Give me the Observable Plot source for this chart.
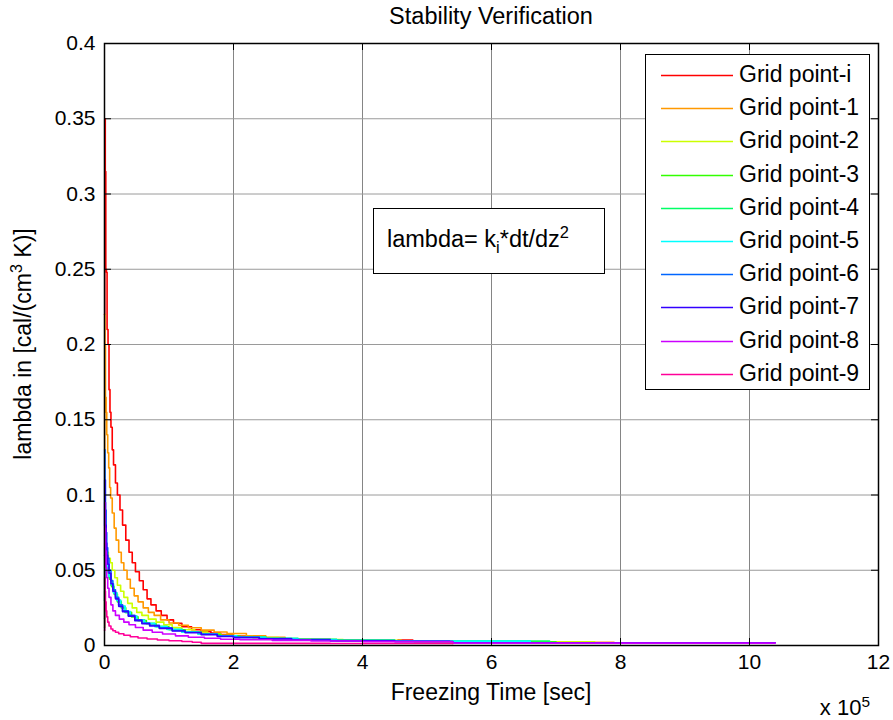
<!DOCTYPE html>
<html><head><meta charset="utf-8">
<script src="https://cdn.jsdelivr.net/npm/d3@7"></script>
<script src="https://cdn.jsdelivr.net/npm/@observablehq/plot@0.6"></script>
<style>
body{margin:0;background:#fff;font-family:"Liberation Sans",Arial,sans-serif;}
#wrap{position:relative;width:893px;height:720px;overflow:hidden;}
.t{position:absolute;font-size:21px;color:#000;white-space:nowrap;line-height:1;}
sup,sub{font-size:0.7em;line-height:0;}
#legend{position:absolute;left:645px;top:54px;width:225px;height:336px;box-sizing:border-box;border:1px solid #000;background:#fff;}
.li{position:absolute;left:0;height:30px;width:100%;}
.li svg{position:absolute;left:15px;top:14px;}
.li span{position:absolute;left:93px;top:3px;font-size:23px;line-height:1;}
#note{position:absolute;left:373px;top:208px;width:232px;height:66px;box-sizing:border-box;border:1px solid #000;background:#fff;}
#note span{position:absolute;left:13px;top:19px;font-size:23.5px;line-height:1;white-space:nowrap;}
</style></head><body><div id="wrap"></div>
<script>
// ---- data (time in units of 10^5 s, lambda) ----
const seriesNames = ["Grid point-i","Grid point-1","Grid point-2","Grid point-3","Grid point-4","Grid point-5","Grid point-6","Grid point-7","Grid point-8","Grid point-9"];
const seriesColors = ["#ff0000","#ff9900","#ccff00","#33ff00","#00ff66","#00ffff","#0066ff","#3300ff","#cc00ff","#ff0099"];
const xTicks = [0,2,4,6,8,10,12];
const yTicks = [0,0.05,0.1,0.15,0.2,0.25,0.3,0.35,0.4];
const xGrid = [2,4,6,8,10];
const yGrid = [0.05,0.1,0.15,0.2,0.25,0.3,0.35];

const gridI = [[0,0.22],[0.004,0.35],[0.012,0.315],[0.02,0.25],[0.03,0.248],[0.04,0.21],[0.055,0.2],[0.07,0.17],[0.085,0.155],[0.1,0.145],[0.12,0.13],[0.14,0.12],[0.17,0.108],[0.2,0.1],[0.24,0.09],[0.28,0.08],[0.33,0.07],[0.38,0.062],[0.43,0.055],[0.48,0.049],[0.54,0.043],[0.6,0.037],[0.66,0.031],[0.72,0.027],[0.8,0.023],[0.88,0.02],[0.97,0.017],[1.07,0.0148],[1.2,0.0125],[1.35,0.0105],[1.5,0.0092],[1.65,0.0083],[1.8,0.0072],[2.0,0.0062],[2.2,0.0055],[2.5,0.005],[2.8,0.0045],[3.2,0.0042],[3.5,0.0038],[3.6,0.0032],[4.5,0.0032],[4.55,0.0036],[4.78,0.0036]];
const grid1 = [[0,0.13],[0.003,0.22],[0.008,0.2],[0.015,0.165],[0.025,0.155],[0.035,0.14],[0.05,0.128],[0.065,0.118],[0.08,0.105],[0.095,0.098],[0.12,0.088],[0.15,0.078],[0.18,0.07],[0.22,0.062],[0.26,0.055],[0.3,0.05],[0.35,0.044],[0.4,0.038],[0.46,0.033],[0.52,0.029],[0.6,0.025],[0.68,0.022],[0.77,0.02],[0.87,0.017],[1.0,0.015],[1.15,0.0135],[1.3,0.0118],[1.5,0.0102],[1.7,0.009],[1.9,0.008],[2.2,0.0065],[2.5,0.0055],[2.8,0.0045],[3.1,0.004],[3.5,0.0035],[4.0,0.003],[4.74,0.003],[4.8,0.0026],[5.88,0.0022],[7.9,0.0022]];
const grid2 = [[0,0.03],[0.003,0.068],[0.02,0.065],[0.04,0.062],[0.06,0.058],[0.09,0.055],[0.12,0.05],[0.16,0.045],[0.2,0.04],[0.25,0.036],[0.3,0.032],[0.36,0.028],[0.43,0.025],[0.5,0.022],[0.58,0.02],[0.68,0.0175],[0.8,0.0155],[0.92,0.0138],[1.05,0.012],[1.2,0.0105],[1.4,0.009],[1.6,0.0077],[1.8,0.0068],[2.0,0.006],[2.3,0.0052],[2.7,0.0045],[3.2,0.004],[3.7,0.0035],[4.6,0.0032],[5.9,0.0024],[7.6,0.0024]];
const grid3 = [[0,0.012],[0.003,0.036],[0.006,0.058],[0.02,0.056],[0.04,0.052],[0.06,0.048],[0.08,0.044],[0.11,0.039],[0.15,0.034],[0.2,0.029],[0.26,0.025],[0.33,0.022],[0.42,0.019],[0.52,0.0165],[0.65,0.0145],[0.8,0.0125],[1.0,0.0105],[1.25,0.0088],[1.5,0.0075],[1.8,0.0063],[2.1,0.0055],[2.5,0.0047],[3.0,0.004],[3.6,0.0035],[4.5,0.003],[6.6,0.0025],[7.0,0.0025]];
const grid4 = [[0,0.018],[0.003,0.06],[0.015,0.057],[0.03,0.053],[0.05,0.049],[0.07,0.045],[0.1,0.04],[0.14,0.035],[0.19,0.03],[0.25,0.026],[0.32,0.022],[0.4,0.0195],[0.5,0.017],[0.62,0.0148],[0.78,0.0128],[0.97,0.0108],[1.2,0.009],[1.45,0.0077],[1.75,0.0065],[2.05,0.0056],[2.5,0.0047],[3.0,0.004],[3.6,0.0034],[4.5,0.003],[6.9,0.0024]];
const grid5 = [[0,0.03],[0.003,0.065],[0.015,0.06],[0.03,0.055],[0.05,0.05],[0.07,0.046],[0.1,0.041],[0.14,0.035],[0.19,0.03],[0.25,0.026],[0.32,0.0225],[0.4,0.0195],[0.5,0.0168],[0.62,0.0146],[0.78,0.0125],[0.97,0.0106],[1.2,0.0089],[1.45,0.0076],[1.75,0.0064],[2.05,0.0055],[2.5,0.0046],[3.0,0.0039],[3.6,0.0033],[4.5,0.0029],[6.6,0.0023]];
const grid6 = [[0,0.08],[0.003,0.13],[0.008,0.11],[0.015,0.09],[0.025,0.075],[0.035,0.065],[0.05,0.058],[0.07,0.05],[0.1,0.043],[0.13,0.037],[0.17,0.032],[0.22,0.027],[0.28,0.023],[0.37,0.02],[0.47,0.017],[0.58,0.015],[0.7,0.0135],[0.85,0.0118],[1.05,0.01],[1.25,0.0088],[1.5,0.0075],[1.75,0.0063],[2.0,0.0055],[2.4,0.0046],[2.9,0.0039],[3.5,0.0033],[4.5,0.003],[5.35,0.003]];
const grid7 = [[0,0.06],[0.003,0.11],[0.008,0.095],[0.015,0.08],[0.025,0.068],[0.035,0.06],[0.05,0.054],[0.07,0.048],[0.1,0.041],[0.13,0.036],[0.17,0.031],[0.22,0.026],[0.28,0.0225],[0.37,0.0195],[0.47,0.0165],[0.58,0.0145],[0.7,0.013],[0.85,0.0113],[1.05,0.0096],[1.25,0.0085],[1.5,0.0072],[1.75,0.006],[2.0,0.0052],[2.4,0.0044],[2.9,0.0037],[3.5,0.0031],[4.5,0.0026],[5.4,0.0018],[10.4,0.0018]];
const grid8 = [[0,0.03],[0.003,0.095],[0.008,0.078],[0.015,0.063],[0.025,0.052],[0.035,0.045],[0.05,0.038],[0.07,0.032],[0.1,0.027],[0.13,0.023],[0.17,0.02],[0.23,0.0175],[0.3,0.0155],[0.38,0.0138],[0.48,0.012],[0.6,0.0102],[0.74,0.0088],[0.9,0.0076],[1.1,0.0064],[1.3,0.0055],[1.55,0.0048],[1.8,0.0042],[2.1,0.0038],[2.6,0.0034],[3.2,0.003],[4.0,0.0026],[5.4,0.0016],[10.4,0.0016]];
const grid9 = [[0,0.01],[0.003,0.045],[0.008,0.036],[0.015,0.029],[0.025,0.023],[0.035,0.019],[0.05,0.0155],[0.07,0.013],[0.1,0.011],[0.13,0.0098],[0.17,0.0088],[0.22,0.0078],[0.3,0.0068],[0.4,0.0058],[0.52,0.005],[0.66,0.0043],[0.82,0.0037],[1.0,0.0032],[1.2,0.0027],[1.36,0.0022],[1.5,0.0014],[3.5,0.0013],[5.4,0.0012]];

const allSeries = [gridI,grid1,grid2,grid3,grid4,grid5,grid6,grid7,grid8,grid9];
const rows = allSeries.flatMap((s,i)=>s.map(([t,v])=>({series:seriesNames[i],t,v})));

const W=893,H=720,mL=104,mR=15,mT=43,mB=75;
const innerW=W-mL-mR, innerH=H-mT-mB, tk=7;

const chart = Plot.plot({
  width:W,height:H,marginLeft:mL,marginRight:mR,marginTop:mT,marginBottom:mB,
  style:{fontFamily:'"Liberation Sans",Arial,sans-serif',fontSize:"21px",background:"transparent",color:"#000"},
  x:{domain:[0,12]},
  y:{domain:[0,0.4]},
  color:{domain:seriesNames,range:seriesColors},
  marks:[
    Plot.gridX(xGrid,{stroke:"#858585",strokeOpacity:1,strokeWidth:1}),
    Plot.gridY(yGrid,{stroke:"#9a9a9a",strokeOpacity:1,strokeWidth:1}),
    Plot.line(rows,{x:"t",y:"v",z:"series",stroke:"series",curve:"step-after",strokeWidth:1.6}),
    Plot.ruleX(xTicks,{x:d=>d,insetTop:innerH-tk,stroke:"#000"}),
    Plot.ruleX(xTicks,{x:d=>d,insetBottom:innerH-tk,stroke:"#000"}),
    Plot.ruleY(yTicks,{y:d=>d,insetRight:innerW-tk,stroke:"#000"}),
    Plot.ruleY(yTicks,{y:d=>d,insetLeft:innerW-tk,stroke:"#000"}),
    Plot.axisX(xTicks,{tickSize:0,tickPadding:9,tickFormat:d=>String(d),label:null}),
    Plot.axisY(yTicks,{tickSize:0,tickPadding:9,tickFormat:d=>String(+d.toFixed(2)),label:null}),
    Plot.frame({stroke:"#000",strokeWidth:1.5})
  ]
});
const wrap=document.getElementById("wrap");
wrap.appendChild(chart);
chart.style.position="absolute";chart.style.left="0";chart.style.top="0";

function addText(html,css){const d=document.createElement("div");d.className="t";d.innerHTML=html;Object.assign(d.style,css);wrap.appendChild(d);return d;}
addText("Stability Verification",{left:mL+"px",width:innerW+"px",textAlign:"center",top:"5px",fontSize:"23.5px"});
addText("Freezing Time [sec]",{left:mL+"px",width:innerW+"px",textAlign:"center",top:"681px",fontSize:"23px"});
addText("x 10<sup>5</sup>",{right:"23px",top:"697px",fontSize:"22px"});
addText("lambda in [cal/(cm<sup>3</sup> K)]",{left:"23px",top:(mT+innerH/2)+"px",transform:"translate(-50%,-50%) rotate(-90deg)",fontSize:"23px"});

// legend
const leg=document.createElement("div");leg.id="legend";wrap.appendChild(leg);
seriesNames.forEach((n,i)=>{
  const r=document.createElement("div");r.className="li";r.style.top=(5+i*33.2)+"px";
  r.innerHTML=`<svg width="72" height="3"><line x1="0" x2="72" y1="1.5" y2="1.5" stroke="${seriesColors[i]}" stroke-width="1.3"/></svg><span>${n}</span>`;
  leg.appendChild(r);
});
// annotation
const note=document.createElement("div");note.id="note";
note.innerHTML='<span>lambda= k<sub>i</sub>*dt/dz<sup>2</sup></span>';
wrap.appendChild(note);
</script></body></html>
